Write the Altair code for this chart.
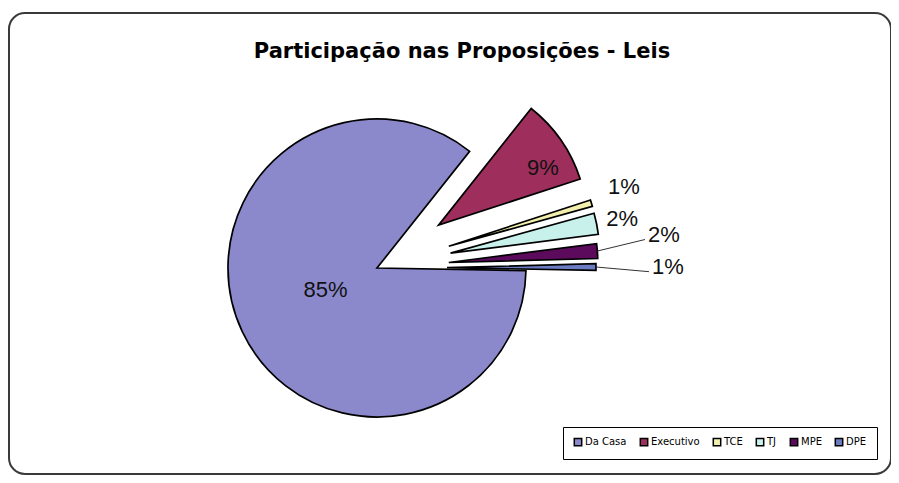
import altair as alt
import pandas as pd

# ---- data ----
categories = ["Da Casa", "Executivo", "TCE", "TJ", "MPE", "DPE"]
shares = [85.4, 9.3, 0.7, 2.3, 1.6, 0.7]  # percent

# ---- styling ----
colors = ["#8B89CC", "#9E2F5C", "#F3F0AE", "#C8F1EB", "#5C0A5C", "#6C7CC2"]
explode_px = [0, 75, 75, 75, 72, 70]          # slice explosion
label_radius = [56, 119, 185, 175, 217, 221]  # label distance from slice tip
label_shift_deg = [2, 6, -2, 0, -3, 0]        # small angular nudge of label
has_leader = [False, False, False, False, True, True]

W, H = 882, 461
CX, CY = 368, 255
R = 149
START_DEG = 91

df = pd.DataFrame({
    "category": categories,
    "value": shares,
    "order": list(range(len(categories))),
    "explode": explode_px,
    "lr": label_radius,
    "ls": label_shift_deg,
    "leader": has_leader,
})

base = (
    alt.Chart(df)
    .transform_window(cum="sum(value)", sort=[alt.SortField("order")], frame=[None, 0])
    .transform_joinaggregate(total="sum(value)")
    .transform_calculate(a0=f"{START_DEG}*PI/180 + 2*PI*(datum.cum - datum.value)/datum.total")
    .transform_calculate(a1=f"{START_DEG}*PI/180 + 2*PI*datum.cum/datum.total")
    .transform_calculate(mid="(datum.a0 + datum.a1)/2")
    .transform_calculate(cx=f"{CX} + datum.explode*sin(datum.mid)")
    .transform_calculate(cy=f"{CY} - datum.explode*cos(datum.mid)")
    .transform_calculate(lx="datum.cx + datum.lr*sin(datum.mid + datum.ls*PI/180)")
    .transform_calculate(ly="datum.cy - datum.lr*cos(datum.mid + datum.ls*PI/180)")
    .transform_calculate(ox=f"datum.cx + {R}*sin(datum.mid)")
    .transform_calculate(oy=f"datum.cy - {R}*cos(datum.mid)")
    .transform_calculate(ex="datum.lx - 19")
    .transform_calculate(ey="datum.ly + 5")
    .transform_calculate(label="round(datum.value) + '%'")
)

arcs = base.mark_arc(outerRadius=R, stroke="black", strokeWidth=1.7).encode(
    x=alt.X("cx:Q", scale=None, axis=None),
    y=alt.Y("cy:Q", scale=None, axis=None),
    theta=alt.Theta("a0:Q", scale=None, stack=None),
    theta2=alt.Theta2("a1:Q"),
    color=alt.Color(
        "category:N",
        sort=categories,
        scale=alt.Scale(domain=categories, range=colors),
        legend=alt.Legend(
            title=None,
            orient="none",
            legendX=554,
            legendY=414,
            direction="horizontal",
            symbolType="square",
            symbolSize=55,
            symbolStrokeColor="black",
            symbolStrokeWidth=1.5,
            labelFont="DejaVu Sans",
            labelFontSize=10,
            labelColor="black",
            labelOffset=2,
            columnPadding=10,
            padding=10,
            strokeColor="black",
        ),
    ),
)

leaders = base.transform_filter("datum.leader").mark_rule(color="#333333", strokeWidth=1).encode(
    x=alt.X("ox:Q", scale=None, axis=None),
    y=alt.Y("oy:Q", scale=None, axis=None),
    x2=alt.X2("ex:Q"),
    y2=alt.Y2("ey:Q"),
)

labels = base.mark_text(
    font="Liberation Sans", fontSize=22, color="#111111", align="center", baseline="middle"
).encode(
    x=alt.X("lx:Q", scale=None, axis=None),
    y=alt.Y("ly:Q", scale=None, axis=None),
    text="label:N",
)

chart = (
    alt.layer(arcs, leaders, labels)
    .properties(
        width=W,
        height=H,
        autosize=alt.AutoSizeParams(type="none"),
        padding={"left": 1, "top": 5, "right": 0, "bottom": 1},
        background="white",
        title=alt.Title(
            "Participação nas Proposições - Leis",
            font="DejaVu Sans",
            fontSize=21,
            fontWeight="bold",
            color="black",
            anchor="middle",
            frame="group",
            baseline="alphabetic",
            offset=0,
            dy=66,
            dx=12,
        ),
    )
    .configure_view(stroke="#3a3a3a", strokeWidth=2, cornerRadius=16, fill="white")
)

chart.save("out.html", embed_options={"renderer": "svg", "actions": False})
